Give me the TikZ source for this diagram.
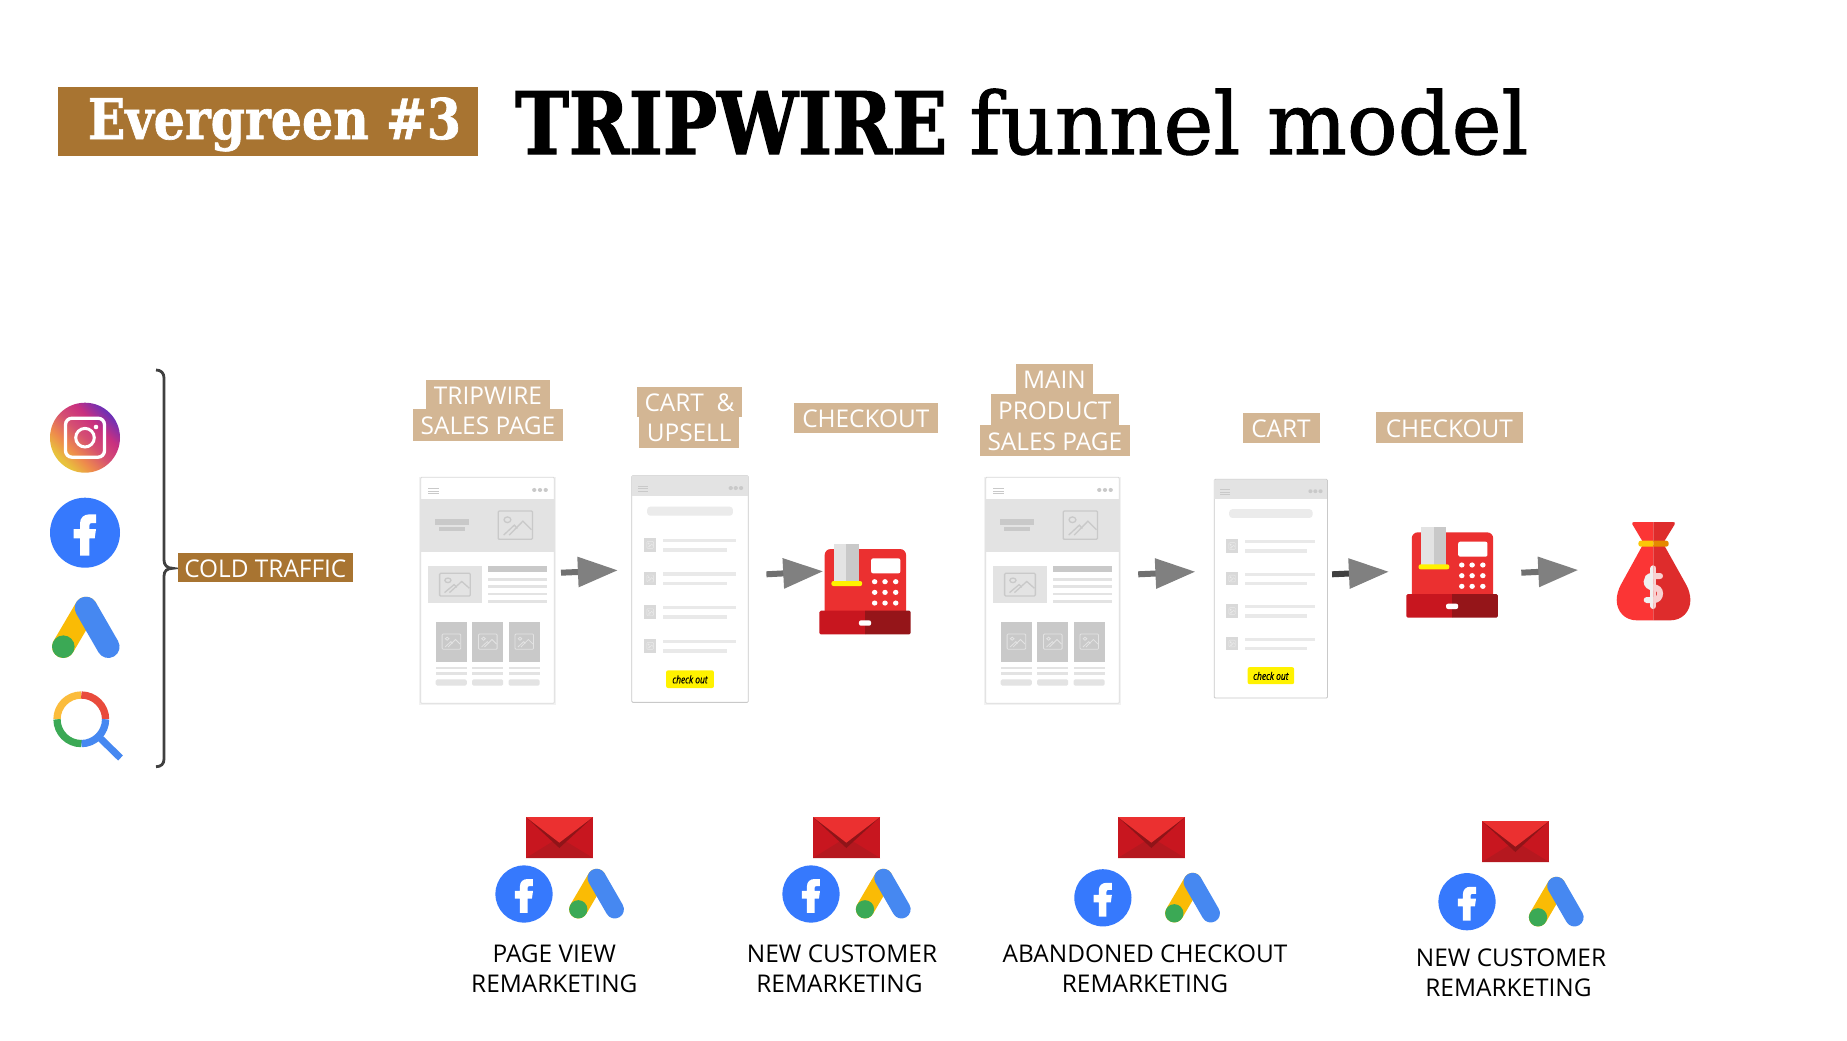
\documentclass[tikz,border=0pt]{standalone}
\usepackage{fontspec}
\usetikzlibrary{arrows.meta}
\setmainfont{Open Sans}
\newfontfamily\ttltrip[FakeStretch=.84,FakeBold=1.5]{DejaVu Serif}
\newfontfamily\ttlever[FakeStretch=.875,FakeBold=1.2]{DejaVu Serif}
\newfontfamily\ttlreg[FakeStretch=.98,FakeBold=1.2]{DejaVu Serif}
\newfontfamily\chkfont[FakeStretch=.8,FakeBold=.6]{Open Sans}
\definecolor{bandbrown}{HTML}{A87431}
\definecolor{tanband}{HTML}{D3B694}
\definecolor{wfmid}{HTML}{C9C9C9}
\definecolor{wflight}{HTML}{E3E3E3}
\definecolor{wfedge}{HTML}{DADADA}
\definecolor{arrowgray}{HTML}{808080}
\definecolor{stemgray}{HTML}{707070}
\definecolor{stemdark}{HTML}{404040}
\definecolor{regred}{HTML}{EB3030}
\definecolor{drawerL}{HTML}{C8161F}
\definecolor{drawerR}{HTML}{951519}
\definecolor{bagL}{HTML}{FB3535}
\definecolor{bagR}{HTML}{DE2C2C}
\definecolor{envdark}{HTML}{B5181F}
\definecolor{envshadow}{HTML}{8F1418}
\definecolor{fbblue}{HTML}{3679FD}
\definecolor{gblue}{HTML}{4688F1}
\definecolor{gyellow}{HTML}{FABB05}
\definecolor{ggreen}{HTML}{3BA955}
\definecolor{gred}{HTML}{E94B3C}
\definecolor{ringyellow}{HTML}{FBBC3C}
\definecolor{braceg}{HTML}{404040}
\definecolor{instaA}{HTML}{E8C23C}
\definecolor{instaB}{HTML}{EE8B4C}
\definecolor{instaC}{HTML}{D54F72}
\definecolor{instaD}{HTML}{C9307F}
\definecolor{instaE}{HTML}{6A30B8}
\pgfdeclareverticalshading{instashade}{100bp}{color(0bp)=(instaA); color(27bp)=(instaA); color(37bp)=(instaB); color(50bp)=(instaC); color(62bp)=(instaD); color(75bp)=(instaE); color(100bp)=(instaE)}
\newcommand{\wfimg}[6]{%
  \begin{scope}[shift={(#1,#2)},xscale=#3,yscale=#4]
    \draw[draw=#5,line width=#6,rounded corners=1] (0,0) rectangle (1,1);
    \draw[draw=#5,line width=#6] (.27,.31) circle[radius=.1];
    \draw[draw=#5,line width=#6] (.16,.85)--(.47,.5)--(.56,.62);
    \draw[draw=#5,line width=#6] (.32,.85)--(.72,.36)--(.97,.66);
  \end{scope}}
\tikzset{
  tanlab/.style={fill=tanband,text=white,inner sep=0pt,text height=19.4pt,text depth=0pt,font=\fontsize{24.4}{30}\selectfont},
  coldlab/.style={fill=bandbrown,text=white,inner sep=0pt,text height=19.4pt,text depth=0pt,font=\fontsize{24.4}{30}\selectfont},
  remark/.style={text=black,inner sep=0pt,align=center,font=\fontsize{24.4}{30}\selectfont},
  flow/.style={draw=stemgray,line width=6pt,-{Triangle[length=40pt,width=29pt,fill=arrowgray,color=arrowgray]}},
  flowdark/.style={draw=stemdark,line width=6pt,-{Triangle[length=40pt,width=29pt,fill=arrowgray,color=arrowgray]}},
  wfthin/.style={fill=wflight},
  wfbar/.style={fill=wfmid},
  pics/wfa/.style={code={
    \begin{scope}[shift={(-58,-352)}]
      \fill[black!5] (52,350) rectangle (438,1036);
      \fill[white,draw=wfedge,line width=.8pt,rounded corners=1] (58,352) rectangle (432,1030);
      \foreach \y in {385,393,401} \fill[wfmid] (78,\y-1) rectangle (108,\y+2);
      \foreach \x in {376,392,408} \fill[wfmid] (\x,390) circle[radius=6];
      \fill[wflight] (58,417) rectangle (432,575);
      \fill[wfbar] (99,478) rectangle (193,495);
      \fill[wfbar] (109,501) rectangle (183,513);
      \wfimg{275}{453}{96}{85}{wfmid}{1.3pt}
      \fill[wflight] (78,618) rectangle (229,728);
      \wfimg{111}{640}{86}{68}{wfmid}{1.3pt}
      \fill[wfbar] (246,618) rectangle (412,636);
      \foreach \y in {654,676,698,720} \fill[wfthin] (246,\y) rectangle (412,\y+8);
      \foreach \x in {100,202,304} {
        \fill[wfbar] (\x,786) rectangle (\x+87,905);
        \wfimg{\x+18}{822}{52}{46}{wflight}{.8pt}
        \fill[wfthin] (\x,920) rectangle (\x+87,928);
        \fill[wfthin] (\x,936) rectangle (\x+87,944);
        \fill[wfthin,rounded corners=1.5] (\x,958) rectangle (\x+87,977);
      }
    \end{scope}}},
  pics/wfb/.style={code={
    \begin{scope}[shift={(-649,-347)}]
      \fill[white,draw=wfmid,line width=.8pt,rounded corners=1] (649,347) rectangle (975,1027);
      \fill[wflight] (649,348) rectangle (975,408);
      \foreach \y in {379,386,393} \fill[wfmid] (665,\y-1) rectangle (693,\y+2);
      \foreach \x in {926,940,955} \fill[wfmid] (\x,384) circle[radius=6];
      \fill[wflight!70!white,rounded corners=3] (692,440) rectangle (932,467);
      \foreach \d in {0,101,202,303} {
        \fill[black!15] (684,534+\d) rectangle (717,575+\d);
        \wfimg{691}{544+\d}{19}{21}{black!8}{.4pt}
        \fill[wflight!80!white] (736,536+\d) rectangle (940,546+\d);
        \fill[wflight!80!white] (736,564+\d) rectangle (915,575+\d);
      }
      \fill[yellow,rounded corners=2] (745,931) rectangle (879,984);
      \node[inner sep=0pt,text=black,font=\chkfont\itshape\fontsize{10.5}{11}\selectfont] at (812,958) {check out};
    \end{scope}}},
  pics/till/.style={code={
    \begin{scope}[shift={(-1174,-752)}]
      \fill[regred,rounded corners=6] (1189,567) rectangle (1417,790);
      \fill[wflight] (1215,552) -- (1250,552) -- (1250,665) -- (1215,665) -- cycle;
      \fill[wfmid] (1250,552) -- (1285,552) -- (1285,665) -- (1250,665) -- cycle;
      \fill[yellow,rounded corners=2] (1208,663) rectangle (1294,678);
      \fill[white,rounded corners=2] (1319,595) rectangle (1401,640);
      \foreach \x in {1329,1358,1388} \foreach \y in {665,697,729} \fill[white] (\x,\y) circle[radius=7.7];
      \fill[drawerL] (1302,752) {[rounded corners=1.5] -- (1174,752) -- (1174,823)} -- (1302,823) -- cycle;
      \fill[drawerR] (1302,752) {[rounded corners=1.5] -- (1430,752) -- (1430,823)} -- (1302,823) -- cycle;
      \fill[white,rounded corners=2] (1285,781) rectangle (1319,797);
    \end{scope}}},
  pics/envelope/.style={code={
    \begin{scope}[shift={(-198,-21)}]
      \fill[drawerL] (198,21) rectangle (399,144);
      \fill[envdark] (198,144) -- (298,82) -- (399,144) -- cycle;
      \fill[envshadow] (198,21) -- (298,114) -- (399,21) -- cycle;
      \fill[regred] (198,21) -- (298,98) -- (399,21) -- cycle;
    \end{scope}}},
  pics/fblogo/.style={code={
    \fill[fbblue] (0,0) circle[radius=35];
    \fill[white] (-5,23) -- (-5,5.7) -- (-11.3,5.7) -- (-11.3,-3.7) -- (-5,-3.7) -- (-5,-9.3)
      .. controls (-5,-15) and (-1,-18.3) .. (4,-18.3) -- (11,-18.3) -- (11,-9.7) -- (6.7,-9.7)
      .. controls (5,-9.7) and (4.3,-8.7) .. (4.3,-7) -- (4.3,-3.7) -- (11,-3.7) -- (9.7,5.7) -- (4.3,5.7) -- (4.3,23) -- cycle;
  }},
  pics/adslogo/.style={code={
    \draw[gyellow,line width=#1,line cap=round] (0,0) -- (22.7,-38.7);
    \draw[gblue,line width=#1,line cap=round] (22.7,-38.7) -- (45,0);
    \fill[ggreen] (0,0) circle[radius=11.3];
  }}
}
\begin{document}
\begin{tikzpicture}[x=1pt,y=-1pt]
\useasboundingbox (0,0) rectangle (1847,1041);
\fill[white] (0,0) rectangle (1847,1041);
% title
\node[fill=bandbrown,minimum width=420pt,minimum height=69pt,inner sep=0pt] (band) at (268,121.5) {};
\node[anchor=base,inner sep=0pt,text=white,font=\ttlever\bfseries\fontsize{56}{60}\selectfont] (ever) at (274.5,139) {Evergreen \#3};
\node[anchor=base west,inner sep=0pt,text=black,font=\fontsize{86}{90}\selectfont] (title) at (515,154) {{\ttltrip\bfseries TRIPWIRE} {\ttlreg funnel model}};
% traffic icons
\shade[shading=instashade,shading angle=-45] (85,437.7) circle[radius=35];
\draw[white,line width=3.3pt,rounded corners=6.5] (65.5,418.2) rectangle (104.5,457.2);
\draw[white,line width=3pt] (85,437.7) circle[radius=9.3];
\fill[white] (96,427) circle[radius=2.3];
\pic at (85,532.7) {fblogo};
\pic at (63.3,646.7) {adslogo=22.6pt};
\draw[ringyellow,line width=7.3pt] (81.3,719.3) ++(180:24.3) arc[start angle=180,end angle=270,radius=24.3];
\draw[gred,line width=7.3pt] (81.3,719.3) ++(270:24.3) arc[start angle=270,end angle=360,radius=24.3];
\draw[gblue,line width=7.3pt] (81.3,719.3) ++(0:24.3) arc[start angle=0,end angle=90,radius=24.3];
\draw[ggreen,line width=7.3pt] (81.3,719.3) ++(90:24.3) arc[start angle=90,end angle=180,radius=24.3];
\draw[gblue,line width=7pt] (99,737) -- (120.5,758);
% brace
\draw[braceg,line width=2.8pt] (156,370) .. controls (161,370) and (164,373) .. (164,378) -- (164,560) .. controls (164,565) and (167,568.3) .. (172.7,568.3) .. controls (167,568.3) and (164,571) .. (164,576) -- (164,759) .. controls (164,764) and (161,766.7) .. (156,766.7);
\node[coldlab,minimum width=174.7pt,minimum height=29.3pt] (cold) at (265.3,567.7) {COLD TRAFFIC};
% stage labels
\node[tanlab,minimum width=124pt,minimum height=29.3pt] (l1a) at (488,394.7) {TRIPWIRE};
\node[tanlab,minimum width=150pt,minimum height=31.4pt] (l1b) at (488,425) {SALES PAGE};
\node[tanlab,minimum width=105pt,minimum height=29.4pt] (l2a) at (689.5,402) {CART\ \ \&};
\node[tanlab,minimum width=99.7pt,minimum height=31pt] (l2b) at (689.2,432.2) {UPSELL};
\node[tanlab,minimum width=144.4pt,minimum height=30pt] (l3) at (865.8,417.7) {CHECKOUT};
\node[tanlab,minimum width=77pt,minimum height=29.7pt] (l4a) at (1054.5,379.2) {MAIN};
\node[tanlab,minimum width=127.6pt,minimum height=31pt] (l4b) at (1054.8,409.5) {PRODUCT};
\node[tanlab,minimum width=150.4pt,minimum height=30.7pt] (l4c) at (1054.8,440.3) {SALES PAGE};
\node[tanlab,minimum width=77pt,minimum height=29.7pt] (l5) at (1281,428.2) {CART};
\node[tanlab,minimum width=146.7pt,minimum height=30.4pt] (l6) at (1449.3,427.5) {CHECKOUT};
% pages
\pic[xscale=.35714,yscale=.33333] at (420.7,477.3) {wfa};
\pic[xscale=.35714,yscale=.33333] at (631.8,475.7) {wfb};
\pic[xscale=.35714,yscale=.33333] at (985.7,477.3) {wfa};
\pic[xscale=.34714,yscale=.32167] at (1214.3,479.3) {wfb};
% tills and bag
\pic[xscale=.35714,yscale=.33333] at (819.3,610.7) {till};
\pic[xscale=.35714,yscale=.33333] at (1406.4,594) {till};
\begin{scope}[shift={(1616.7,522)},scale=.33333,shift={(-860,-66)}]
  \fill[bagL] (970,66) -- (912,66) .. controls (907,66) and (905,69) .. (907,73) -- (938,125) -- (970,125) -- cycle;
  \fill[bagR] (970,66) -- (1029,66) .. controls (1034,66) and (1036,69) .. (1034,73) -- (1002,125) -- (970,125) -- cycle;
  \fill[bagL] (970,135) -- (938,135) -- (872,255) .. controls (865,268) and (860,285) .. (860,300) .. controls (860,335) and (885,361) .. (920,361) -- (970,361) -- cycle;
  \fill[bagR] (970,135) -- (1002,135) -- (1069,255) .. controls (1076,268) and (1081,285) .. (1081,300) .. controls (1081,335) and (1056,361) .. (1021,361) -- (970,361) -- cycle;
  \fill[yellow!60!orange] (970,122) {[rounded corners=2.5] -- (925,122) -- (925,140)} -- (970,140) -- cycle;
  \fill[orange!80!yellow!90!black] (970,122) {[rounded corners=2.5] -- (1016,122) -- (1016,140)} -- (970,140) -- cycle;
  \begin{scope}
    \clip (900,190) rectangle (970,330);
    \draw[draw=black!6,line width=6pt,line cap=round] (990,228) -- (966,228) .. controls (955,228) and (950,236) .. (950,245) .. controls (950,255) and (958,262) .. (970,262) .. controls (982,262) and (990,270) .. (990,280) .. controls (990,292) and (982,300) .. (972,300) -- (950,300);
    \draw[draw=black!6,line width=6pt,line cap=round] (970,205) -- (970,318);
  \end{scope}
  \begin{scope}
    \clip (970,190) rectangle (1040,330);
    \draw[draw=white!78!bagR,line width=6pt,line cap=round] (990,228) -- (966,228) .. controls (955,228) and (950,236) .. (950,245) .. controls (950,255) and (958,262) .. (970,262) .. controls (982,262) and (990,270) .. (990,280) .. controls (990,292) and (982,300) .. (972,300) -- (950,300);
    \draw[draw=white!78!bagR,line width=6pt,line cap=round] (970,205) -- (970,318);
  \end{scope}
\end{scope}
% flow arrows
\coordinate (a1s) at (561,572.7); \coordinate (a1e) at (617.9,570.3);
\coordinate (a2s) at (766.4,574.3); \coordinate (a2e) at (823.2,571.3);
\coordinate (a3s) at (1138.2,574.3); \coordinate (a3e) at (1195.4,571.7);
\coordinate (a4s) at (1332.1,574.3); \coordinate (a4e) at (1388.9,571.7);
\coordinate (a5s) at (1521.3,572.7); \coordinate (a5e) at (1578.3,570);
\draw[flow] (a1s) -- (a1e);
\draw[flow] (a2s) -- (a2e);
\draw[flow] (a3s) -- (a3e);
\draw[flowdark] (a4s) -- (a4e);
\draw[flow] (a5s) -- (a5e);
% remarketing groups
\pic[scale=.33333] at (526,817) {envelope};
\pic[scale=.33333] at (813,817) {envelope};
\pic[scale=.33333] at (1118,817) {envelope};
\pic[scale=.33333] at (1482,821) {envelope};
\pic[scale=.817] at (524,894) {fblogo};
\pic[scale=.817] at (811,894) {fblogo};
\pic[scale=.817] at (1102.9,897.8) {fblogo};
\pic[scale=.817] at (1467,901.7) {fblogo};
\pic[scale=.81] at (578.3,909.3) {adslogo=18.4pt};
\pic[scale=.81] at (865,909.3) {adslogo=18.4pt};
\pic[scale=.81] at (1174.3,913.3) {adslogo=18.4pt};
\pic[scale=.81] at (1538,917.3) {adslogo=18.4pt};
\node[remark] (r1) at (554.3,969) {PAGE VIEW\\REMARKETING};
\node[remark] (r2) at (842,969) {NEW CUSTOMER\\REMARKETING\hspace*{5pt}};
\node[remark] (r3) at (1145,969) {ABANDONED CHECKOUT\\REMARKETING};
\node[remark] (r4) at (1511,973) {NEW CUSTOMER\\REMARKETING\hspace*{5pt}};
\end{tikzpicture}
\end{document}
